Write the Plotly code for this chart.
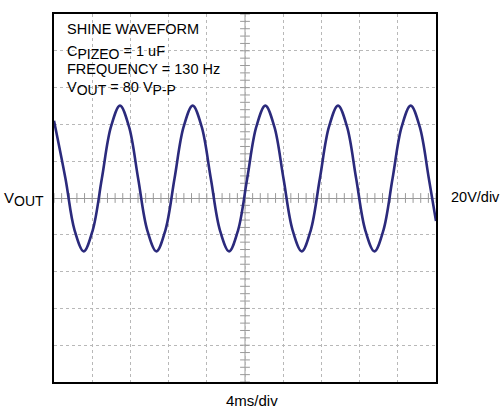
import numpy as np
import plotly.graph_objects as go

# Time in ms (4 ms/div, 10 divisions) and Vout in volts (20 V/div)
time_ms = [0.00, 1.20, 2.15, 3.11, 4.06, 5.01, 5.96,
           6.91, 7.86, 8.81, 9.76, 10.72, 11.67, 12.62, 13.57,
           14.52, 15.47, 16.42, 17.37, 18.33, 19.28, 20.23, 21.18,
           22.13, 23.08, 24.03, 24.98, 25.94, 26.89, 27.84, 28.79,
           29.74, 30.69, 31.64, 32.59, 33.55, 34.50, 35.45, 36.40,
           37.35, 38.30, 39.25, 40.00]
vout_v = [42.0, 10.6, -17.4, -29.0, -17.4, 10.6, 38.6,
          50.2, 38.6, 10.6, -17.4, -29.0, -17.4, 10.6, 38.6,
          50.2, 38.6, 10.6, -17.4, -29.0, -17.4, 10.6, 38.6,
          50.2, 38.6, 10.6, -17.4, -29.0, -17.4, 10.6, 38.6,
          50.2, 38.6, 10.6, -17.4, -29.0, -17.4, 10.6, 38.6,
          50.2, 38.6, 10.6, -12.5]

ms_per_div = 4
v_per_div = 20
n_div = 10

x_min, x_max = 0, ms_per_div * n_div
y_min, y_max = -v_per_div * n_div / 2, v_per_div * n_div / 2
x_center = (x_min + x_max) / 2

FONT = "Liberation Sans, Arial, sans-serif"
WAVE = "#2b2a7c"
GRID = "#b8b8b8"
CENTER = "#9a9a9a"

fig = go.Figure()

# minor tick marks on the center cross lines (5 per division)
minor_x = np.arange(x_min, x_max + 1e-9, ms_per_div / 5)
minor_y = np.arange(y_min, y_max + 1e-9, v_per_div / 5)
fig.add_trace(go.Scatter(
    x=minor_x, y=np.zeros_like(minor_x), mode="markers",
    marker=dict(symbol="line-ns", size=7, line=dict(width=1, color=CENTER)),
    hoverinfo="skip", showlegend=False))
fig.add_trace(go.Scatter(
    x=np.full_like(minor_y, x_center), y=minor_y, mode="markers",
    marker=dict(symbol="line-ew", size=7, line=dict(width=1, color=CENTER)),
    hoverinfo="skip", showlegend=False))

fig.add_trace(go.Scatter(
    x=time_ms, y=vout_v, mode="lines",
    line=dict(color=WAVE, width=2.6, shape="spline", smoothing=1.0),
    showlegend=False))

# vertical center line
fig.add_shape(type="line", xref="x", yref="paper", x0=x_center, x1=x_center,
              y0=0, y1=1, line=dict(color=CENTER, width=1), layer="below")

fig.update_xaxes(range=[x_min, x_max], dtick=ms_per_div, tick0=0,
                 showgrid=True, gridcolor=GRID, griddash="dot", gridwidth=1,
                 showticklabels=False, ticks="", zeroline=False,
                 showline=True, linecolor="black", linewidth=2, mirror=True)
fig.update_yaxes(range=[y_min, y_max], dtick=v_per_div, tick0=0,
                 showgrid=True, gridcolor=GRID, griddash="dot", gridwidth=1,
                 showticklabels=False, ticks="",
                 zeroline=True, zerolinecolor=CENTER, zerolinewidth=1,
                 showline=True, linecolor="black", linewidth=2, mirror=True)

L, R, T, B = 54, 64, 14, 28
W, H = 500, 410
pw, ph = W - L - R, H - T - B

def px_x(px):
    return (px - L) / pw

def px_y(py):
    return (H - B - py) / ph

sub = "<sub><span style='font-size:14px'>{}</span></sub>"
ann = [
    dict(text="SHINE WAVEFORM", x=px_x(65), y=px_y(28.8)),
    dict(text="C" + sub.format("PIZEO") + " = 1 uF", x=px_x(65), y=px_y(52.5)),
    dict(text="FREQUENCY = 130 Hz", x=px_x(65), y=px_y(69)),
    dict(text="V" + sub.format("OUT") + " = 80 V" + sub.format("P-P"), x=px_x(65), y=px_y(89)),
]
for a in ann:
    fig.add_annotation(xref="paper", yref="paper", xanchor="left", yanchor="middle",
                       showarrow=False, font=dict(family=FONT, size=14.5, color="black"),
                       **a)

fig.add_annotation(text="V" + sub.format("OUT"), xref="paper", yref="paper",
                   x=px_x(2), y=px_y(199), xanchor="left", yanchor="middle",
                   showarrow=False, font=dict(family=FONT, size=15, color="black"))
fig.add_annotation(text="20V/div", xref="paper", yref="paper",
                   x=px_x(449), y=px_y(197), xanchor="left", yanchor="middle",
                   showarrow=False, font=dict(family=FONT, size=14.5, color="black"))
fig.add_annotation(text="4ms/div", xref="paper", yref="paper",
                   x=px_x(251.5), y=px_y(400), xanchor="center", yanchor="middle",
                   showarrow=False, font=dict(family=FONT, size=15, color="black"))

fig.update_layout(width=W, height=H, margin=dict(l=L, r=R, t=T, b=B),
                  plot_bgcolor="white", paper_bgcolor="white",
                  font=dict(family=FONT), showlegend=False)

fig.write_html("out.html", config={"displayModeBar": False},
               post_script="document.body.style.margin='0';document.body.style.overflow='hidden';")
